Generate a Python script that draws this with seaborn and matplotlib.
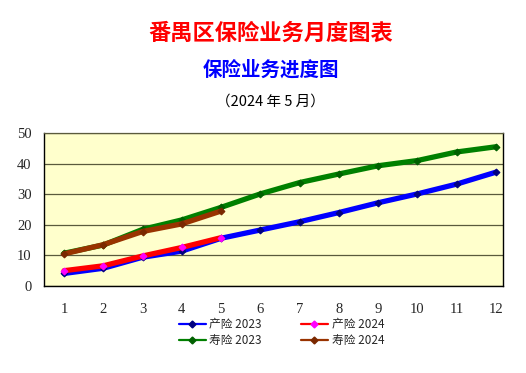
import matplotlib
matplotlib.use("Agg")
import matplotlib.pyplot as plt
from matplotlib.lines import Line2D
import numpy as np
import pandas as pd
import seaborn as sns

MONTHS = list(range(1, 13))
CHANXIAN_2023 = [4.1, 5.8, 9.4, 11.4, 15.6, 18.3, 21.0, 24.0, 27.2, 30.1, 33.3, 37.2]
SHOUXIAN_2023 = [10.7, 13.4, 18.5, 21.6, 25.7, 30.1, 33.8, 36.6, 39.3, 41.0, 43.8, 45.5]
CHANXIAN_2024 = [5.0, 6.6, 9.8, 12.6, 15.8]
SHOUXIAN_2024 = [10.5, 13.5, 17.8, 20.3, 24.5]
Y_TICKS = [0, 10, 20, 30, 40, 50]

# name, values, line colour, marker colour
SERIES = [
    ("产险 2023", CHANXIAN_2023, "#0000ff", "#000080"),
    ("寿险 2023", SHOUXIAN_2023, "#008000", "#006000"),
    ("产险 2024", CHANXIAN_2024, "#ff0000", "#ff00ff"),
    ("寿险 2024", SHOUXIAN_2024, "#993300", "#7a2800"),
]

sns.set_style("white")
plt.rcParams["font.family"] = ["Noto Sans CJK SC", "DejaVu Sans"]

fig = plt.figure(figsize=(5.26, 3.73), dpi=100)
ax = fig.add_axes([44 / 526, 1 - 286 / 373, (503 - 44) / 526, (286 - 133) / 373])
ax.set_facecolor("#ffffcc")

for name, values, color, mcolor in SERIES:
    df = pd.DataFrame({"month": MONTHS[:len(values)], "value": values})
    sns.lineplot(data=df, x="month", y="value", ax=ax, color=color, linewidth=3.8,
                 marker="D", markersize=3.5, markerfacecolor=mcolor,
                 markeredgecolor=mcolor, legend=False, zorder=3)

ax.set_xlim(0.49, 12.18)
ax.set_ylim(0, 50)
ax.set_yticks(Y_TICKS)
ax.set_xticks(MONTHS)
ax.set_xticks(np.arange(1.5, 12, 1), minor=True)
ax.grid(axis="y", color="#5a5a3c", linewidth=0.9)
ax.set_axisbelow(True)
ax.set_xlabel("")
ax.set_ylabel("")
for side in ["left", "bottom", "right"]:
    ax.spines[side].set_color("black")
    ax.spines[side].set_linewidth(1.0)
ax.spines["top"].set_color("#5a5a3c")
ax.spines["top"].set_linewidth(0.9)
ax.tick_params(axis="x", which="major", length=0, pad=12)
ax.tick_params(axis="x", which="minor", length=4, width=0.8, color="black", direction="in")
ax.tick_params(axis="y", length=0, pad=9)
for lbl in ax.get_xticklabels() + ax.get_yticklabels():
    lbl.set_family("Liberation Serif")
    lbl.set_fontsize(10.5)

fig.text(0.515, 0.912, "番禺区保险业务月度图表", color="#ff0000", fontsize=16,
         fontweight="bold", ha="center", va="center")
fig.text(0.515, 0.812, "保险业务进度图", color="#0000ff", fontsize=14,
         fontweight="bold", ha="center", va="center")
fig.text(0.515, 0.727, "（2024 年 5 月）", color="black", fontsize=10.5,
         ha="center", va="center")

handles = [Line2D([0], [0], color=c, linewidth=1.6, marker="D", markersize=3.5,
                  markerfacecolor=m, markeredgecolor=m)
           for _, _, c, m in SERIES]
labels = [s[0] for s in SERIES]
fig.legend(handles, labels, ncol=2, loc="center", bbox_to_anchor=(0.535, 0.108),
           frameon=False, fontsize=8.5, handlelength=2.3, columnspacing=3.3,
           handletextpad=0.3, labelspacing=0.25)

fig.savefig("out.png", dpi=100)
